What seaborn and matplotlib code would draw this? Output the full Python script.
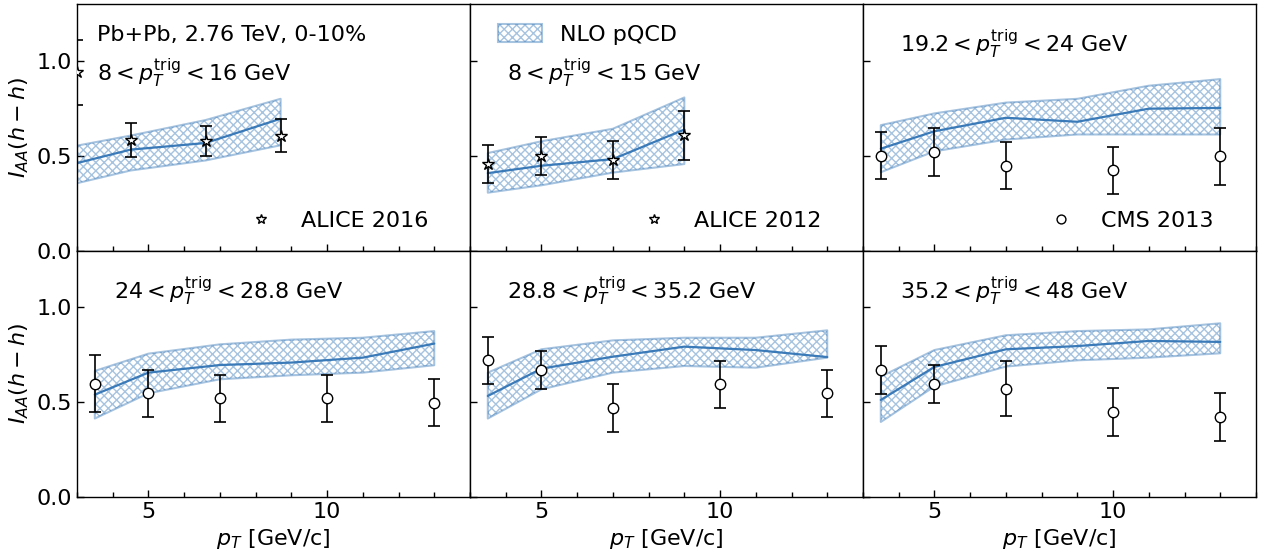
import numpy as np
import pandas as pd
import matplotlib
matplotlib.use("Agg")
import matplotlib.pyplot as plt
import seaborn as sns

# ---- data ----
th_x = [3.5, 5, 7, 9, 11, 13]
cms_x = [3.5, 5, 7, 10, 13]

# panel 1: ALICE 2016, 8 < pT trig < 16
alice16_x = [3.0, 4.5, 6.6, 8.7]
alice16_y = [0.94, 0.585, 0.578, 0.605]
alice16_err = [0.17, 0.09, 0.078, 0.088]
th1_x = [3.0, 4.5, 6.6, 8.7]
th1_mid = [0.461, 0.532, 0.567, 0.695]
th1_lo = [0.355, 0.422, 0.475, 0.555]
th1_hi = [0.553, 0.606, 0.688, 0.80]

# panel 2: ALICE 2012, 8 < pT trig < 15
alice12_x = [3.5, 5, 7, 9]
alice12_y = [0.456, 0.50, 0.475, 0.608]
alice12_err = [0.10, 0.10, 0.10, 0.13]
th2_x = [3.5, 5, 7, 9]
th2_mid = [0.408, 0.447, 0.482, 0.638]
th2_lo = [0.305, 0.344, 0.411, 0.456]
th2_hi = [0.514, 0.576, 0.642, 0.807]

# panels 3-6: CMS 2013
cms3_y = [0.50, 0.52, 0.447, 0.422, 0.496]
cms3_err = [0.125, 0.125, 0.125, 0.125, 0.15]
th3_mid = [0.537, 0.629, 0.70, 0.679, 0.748, 0.752]
th3_lo = [0.413, 0.523, 0.585, 0.612, 0.612, 0.612]
th3_hi = [0.661, 0.723, 0.78, 0.80, 0.869, 0.904]

cms4_y = [0.597, 0.547, 0.52, 0.52, 0.497]
cms4_err = [0.15, 0.125, 0.125, 0.125, 0.125]
th4_mid = [0.54, 0.656, 0.696, 0.709, 0.735, 0.809]
th4_lo = [0.414, 0.547, 0.621, 0.642, 0.656, 0.695]
th4_hi = [0.665, 0.756, 0.805, 0.83, 0.84, 0.875]

cms5_y = [0.72, 0.67, 0.47, 0.595, 0.547]
cms5_err = [0.125, 0.10, 0.125, 0.123, 0.125]
th5_mid = [0.533, 0.677, 0.74, 0.793, 0.775, 0.738]
th5_lo = [0.414, 0.568, 0.656, 0.691, 0.682, 0.735]
th5_hi = [0.656, 0.779, 0.826, 0.84, 0.84, 0.879]

cms6_y = [0.67, 0.596, 0.572, 0.449, 0.423]
cms6_err = [0.125, 0.10, 0.147, 0.125, 0.125]
th6_mid = [0.512, 0.686, 0.779, 0.796, 0.823, 0.818]
th6_lo = [0.396, 0.583, 0.688, 0.721, 0.735, 0.758]
th6_hi = [0.635, 0.775, 0.853, 0.875, 0.884, 0.916]

trig_labels = [r"$8 < p_T^{\rm trig} < 16$ GeV",
               r"$8 < p_T^{\rm trig} < 15$ GeV",
               r"$19.2 < p_T^{\rm trig} < 24$ GeV",
               r"$24 < p_T^{\rm trig} < 28.8$ GeV",
               r"$28.8 < p_T^{\rm trig} < 35.2$ GeV",
               r"$35.2 < p_T^{\rm trig} < 48$ GeV"]
data_labels = ["ALICE 2016", "ALICE 2012", "CMS 2013", None, None, None]

panels = [
    (th1_x, th1_mid, th1_lo, th1_hi, alice16_x, alice16_y, alice16_err, "*"),
    (th2_x, th2_mid, th2_lo, th2_hi, alice12_x, alice12_y, alice12_err, "*"),
    (th_x, th3_mid, th3_lo, th3_hi, cms_x, cms3_y, cms3_err, "o"),
    (th_x, th4_mid, th4_lo, th4_hi, cms_x, cms4_y, cms4_err, "o"),
    (th_x, th5_mid, th5_lo, th5_hi, cms_x, cms5_y, cms5_err, "o"),
    (th_x, th6_mid, th6_lo, th6_hi, cms_x, cms6_y, cms6_err, "o"),
]

sns.set_style("ticks")
plt.rcParams["font.family"] = ["DejaVu Sans"]
plt.rcParams["mathtext.fontset"] = "dejavusans"
plt.rcParams["hatch.linewidth"] = 1.0
plt.rcParams["axes.linewidth"] = 1.0
for key in ["text.color", "axes.labelcolor", "xtick.color", "ytick.color", "axes.edgecolor"]:
    plt.rcParams[key] = "black"

band_col = "#3a7ab8"

fig, axes = plt.subplots(2, 3, figsize=(12.68, 5.57), dpi=100, sharex=True, sharey=True)
fig.subplots_adjust(left=0.0607, right=0.9905, top=0.9928, bottom=0.1077,
                    wspace=0, hspace=0)

for i, ax in enumerate(axes.flat):
    tx, mid, lo, hi, dx, dy, derr, mk = panels[i]
    band = ax.fill_between(tx, lo, hi, facecolor="none",
                           edgecolor=(0.23, 0.48, 0.72, 0.45), hatch="xxxx",
                           linewidth=1.5, label="NLO pQCD")
    df = pd.DataFrame({"pt": tx, "iaa": mid})
    sns.lineplot(data=df, x="pt", y="iaa", ax=ax, color=band_col, lw=1.6, legend=False)
    ms = 9 if mk == "*" else 7.5
    ax.errorbar(dx, dy, yerr=derr, fmt="none", ecolor="black",
                elinewidth=1.2, capsize=4.3, capthick=1.2, zorder=3)
    pts = ax.plot(dx, dy, ls="none", marker=mk, ms=ms, mfc="white", mec="black",
                  mew=1.0, zorder=4, label=data_labels[i])[0]

    ax.text(0.094 if i != 0 else 0.05, 0.72 if i < 2 else 0.835, trig_labels[i],
            transform=ax.transAxes, fontsize=16, va="center", ha="left")

    if ax.get_legend() is not None:
        ax.get_legend().remove()
    if data_labels[i] is not None:
        ax.legend(handles=[pts], loc="lower right", bbox_to_anchor=(0.944, 0.0),
                  frameon=False, fontsize=16, markerscale=0.85)
    if i == 1:
        leg2 = ax.get_legend()
        ax.add_artist(leg2)
        ax.legend(handles=[band], loc="upper left", bbox_to_anchor=(0.02, 1.0),
                  frameon=False, fontsize=16, handleheight=0.9)

    ax.set_xlim(3, 14)
    ax.set_ylim(0, 1.3)
    ax.set_xticks([5, 10])
    ax.set_xticks(np.arange(3, 15, 1), minor=True)
    ax.set_yticks([0.0, 0.5, 1.0])
    ax.tick_params(axis="both", which="both", direction="in", labelsize=16,
                   top=False, right=False)
    ax.tick_params(which="major", length=5, width=1.0)
    ax.tick_params(which="minor", length=3.5, width=1.0)
    ax.set_xlabel("")
    ax.set_ylabel("")

axes[0, 0].text(0.05, 0.875, "Pb+Pb, 2.76 TeV, 0-10%", transform=axes[0, 0].transAxes,
                fontsize=16, va="center", ha="left")

for ax in axes[:, 0]:
    ax.set_ylabel(r"$I_{AA}(h-h)$", fontsize=16)
for ax in axes[1, :]:
    ax.set_xlabel(r"$p_T$ [GeV/c]", fontsize=16)

for ax in axes.flat:
    for sp in ax.spines.values():
        sp.set_visible(True)

fig.savefig("out.png", dpi=100)
